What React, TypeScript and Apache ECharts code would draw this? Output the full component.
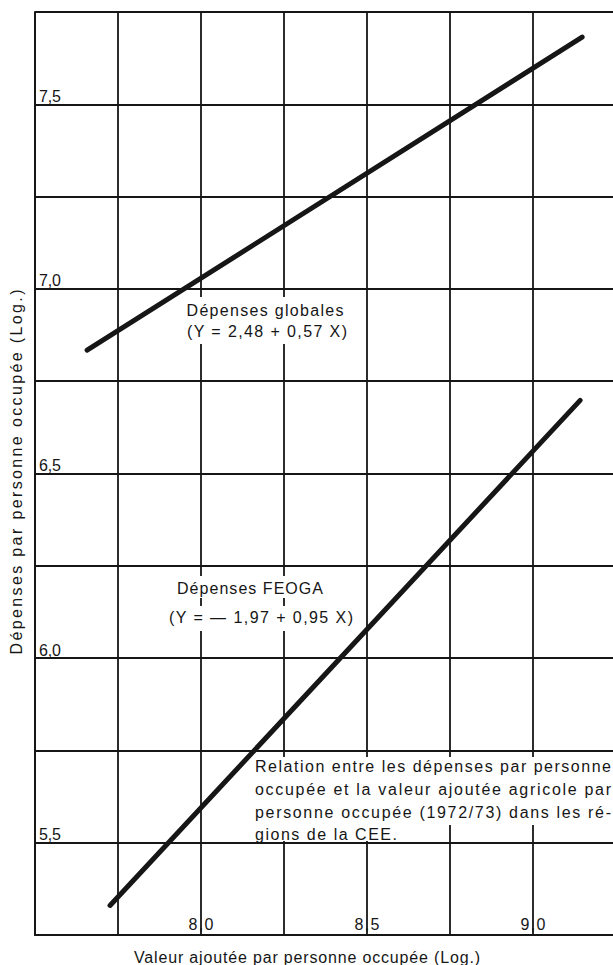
import React, { useEffect, useRef } from 'react';
import * as echarts from 'echarts';

// ---- data ----
const xMin = 7.5;
const xMax = 9.25;
const yMin = 5.25;
const yMax = 7.75;
const gridStep = 0.25;
const xTickLabels = [8.0, 8.5, 9.0];
const yTickLabels = [5.5, 6.0, 6.5, 7.0, 7.5];

const globalX = [7.657, 9.148];
const globalY = [6.834, 7.682];
const feogaX = [7.726, 9.142];
const feogaY = [5.33, 6.698];

const xTitle = 'Valeur ajoutée par personne occupée (Log.)';
const yTitle = 'Dépenses par personne occupée (Log.)';
const globalLabel = ['Dépenses globales', '(Y = 2,48 + 0,57 X)'];
const feogaLabel = ['Dépenses FEOGA', '(Y = — 1,97 + 0,95 X)'];
const noteLines = [
  'Relation entre les dépenses par personne',
  'occupée et la valeur ajoutée agricole par',
  'personne occupée (1972/73) dans les ré-',
  'gions de la CEE.',
];

// ---- styling / layout ----
const INK = '#161616';
const FONT = '"Liberation Sans", Arial, sans-serif';
const FS = 16;

const fmt = (v: number) => v.toFixed(1).replace('.', ',');
const has = (arr: number[], v: number) => arr.some((t) => Math.abs(t - v) < 1e-6);

const textLengths: Record<string, number> = {
  [xTitle]: 346,
  [yTitle]: 365,
  [globalLabel[0]]: 157,
  [globalLabel[1]]: 160,
  [feogaLabel[0]]: 146,
  [feogaLabel[1]]: 184,
  [noteLines[0]]: 356,
  [noteLines[1]]: 356,
  [noteLines[2]]: 356,
  [noteLines[3]]: 142,
  '8,0': 25,
  '8,5': 25,
  '9,0': 25,
  '5,5': 22,
  '6,0': 22,
  '6,5': 22,
  '7,0': 22,
  '7,5': 22,
};

const txt = (text: string, x: number, y: number, align: string, extra: any = {}) => ({
  type: 'text',
  x,
  y,
  z: 3,
  ...extra,
  style: {
    text,
    fill: INK,
    font: `${FS}px ${FONT}`,
    align,
    textAlign: align,
    verticalAlign: 'middle',
    textVerticalAlign: 'middle',
  },
});

const bg = (x: number, y: number, w: number, h: number) => ({
  type: 'rect',
  z: 1,
  shape: { x, y, width: w, height: h },
  style: { fill: '#ffffff' },
  silent: true,
});

export default function App() {
  const ref = useRef<HTMLDivElement>(null);

  useEffect(() => {
    if (!ref.current) return;
    const el = ref.current;
    const chart = echarts.init(el, undefined, { renderer: 'svg' });

    const lineSeries = (xs: number[], ys: number[], name: string) => ({
      type: 'line',
      name,
      data: xs.map((x, i) => [x, ys[i]]),
      symbol: 'none',
      z: 2,
      lineStyle: { color: INK, width: 5, cap: 'round' },
    });

    chart.setOption({
      animation: false,
      backgroundColor: '#ffffff',
      grid: { left: 35, top: 12, width: 581, height: 923, containLabel: false },
      xAxis: {
        type: 'value',
        min: xMin,
        max: xMax,
        interval: gridStep,
        axisLine: { show: true, lineStyle: { color: INK, width: 2 } },
        axisTick: { show: false },
        splitLine: { show: true, lineStyle: { color: INK, width: 1.8 } },
        axisLabel: {
          inside: true,
          margin: 3,
          verticalAlign: 'bottom',
          color: INK,
          fontFamily: FONT,
          fontSize: FS,
          showMinLabel: false,
          showMaxLabel: false,
          formatter: (v: number) => (has(xTickLabels, v) ? fmt(v) : ''),
        },
      },
      yAxis: {
        type: 'value',
        min: yMin,
        max: yMax,
        interval: gridStep,
        axisLine: { show: true, lineStyle: { color: INK, width: 2 } },
        axisTick: { show: false },
        splitLine: { show: true, lineStyle: { color: INK, width: 1.8 } },
        axisLabel: {
          inside: true,
          margin: 4,
          align: 'left',
          verticalAlign: 'bottom',
          color: INK,
          fontFamily: FONT,
          fontSize: FS,
          showMinLabel: false,
          showMaxLabel: false,
          formatter: (v: number) => (has(yTickLabels, v) ? fmt(v) : ''),
        },
      },
      series: [lineSeries(globalX, globalY, 'global'), lineSeries(feogaX, feogaY, 'feoga')],
      graphic: [
        bg(181, 297, 172, 47),
        bg(171, 576, 158, 22),
        bg(163, 606, 196, 25),
        bg(251, 757, 362, 68),
        bg(251, 825, 180, 16),
        txt(globalLabel[0], 265, 310, 'center'),
        txt(globalLabel[1], 267, 331, 'center'),
        txt(feogaLabel[0], 250, 588, 'center'),
        txt(feogaLabel[1], 261, 617, 'center'),
        txt(noteLines[0], 255, 766, 'left'),
        txt(noteLines[1], 255, 789, 'left'),
        txt(noteLines[2], 255, 812, 'left'),
        txt(noteLines[3], 255, 834, 'left'),
        txt(xTitle, 307, 957, 'center'),
        txt(yTitle, 16, 472, 'center', { rotation: Math.PI / 2 }),
      ],
    });

    const applyLengths = () => {
      el.querySelectorAll('text').forEach((t) => {
        const c = (t.textContent || '').trim();
        const L = textLengths[c];
        if (L) {
          t.setAttribute('textLength', String(L));
          t.setAttribute('lengthAdjust', 'spacing');
        }
      });
    };
    applyLengths();
    chart.on('finished', applyLengths);
    const timer = window.setTimeout(applyLengths, 50);

    return () => {
      window.clearTimeout(timer);
      chart.dispose();
    };
  }, []);

  return (
    <div
      style={{
        position: 'fixed',
        left: 0,
        top: 0,
        width: 613,
        height: 965,
        overflow: 'hidden',
        background: '#ffffff',
      }}
    >
      <div ref={ref} style={{ width: 630, height: 965 }} />
    </div>
  );
}
